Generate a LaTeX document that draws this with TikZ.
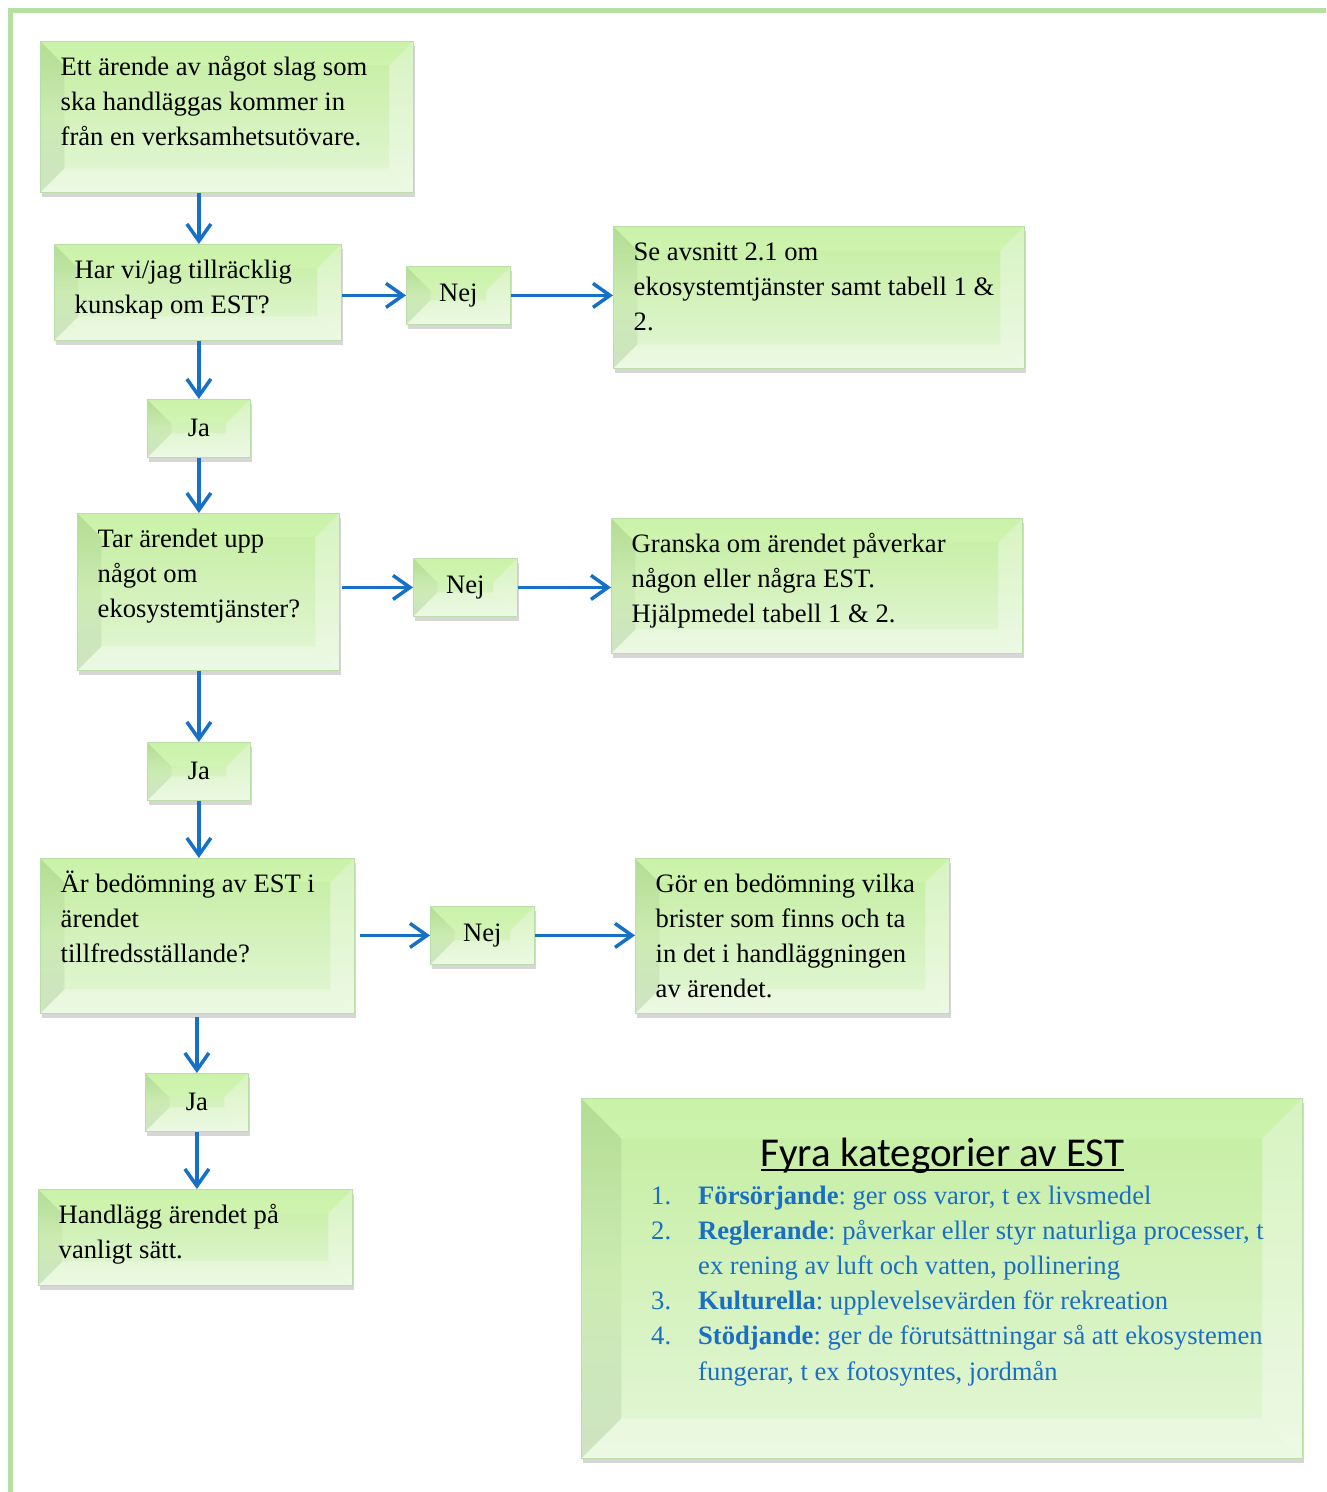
\documentclass[tikz,border=0pt]{standalone}
\usepackage{fontspec}
\setmainfont{Liberation Serif}
\newfontfamily\calib{Carlito}
\usetikzlibrary{calc,shadows,arrows.meta}
\frenchspacing
\definecolor{gtop}{HTML}{C3EE9F}
\definecolor{gbot}{HTML}{E4F6D8}
\definecolor{gedge}{HTML}{BBDDA8}
\definecolor{bevdark}{HTML}{5E7F50}
\definecolor{bevtop}{HTML}{D2F7B2}
\definecolor{framec}{HTML}{B4E1A2}
\definecolor{arrc}{HTML}{1570C6}
\definecolor{lblue}{HTML}{1A6FC4}
\newcommand\lns[1]{\begin{tabular}[t]{@{}l@{}}#1\end{tabular}}
\newcommand\ulin[1]{\setbox0\hbox{#1}\rlap{\rule[-4.5pt]{\wd0}{1.8pt}}\box0}
\newcommand\bevelfaces[1]{%
 \coordinate (pa) at (path picture bounding box.north west);
 \coordinate (pb) at (path picture bounding box.north east);
 \coordinate (pc) at (path picture bounding box.south east);
 \coordinate (pd) at (path picture bounding box.south west);
 \coordinate (qa) at ($(pa)+(#1,-#1)$);
 \coordinate (qb) at ($(pb)+(-#1,-#1)$);
 \coordinate (qc) at ($(pc)+(-#1,#1)$);
 \coordinate (qd) at ($(pd)+(#1,#1)$);
 \fill[bevtop,opacity=.55] (pa)--(pb)--(qb)--(qa)--cycle;
 \shade[top color=bevdark,bottom color=bevdark,middle color=gtop,opacity=.10] (pa)--(qa)--(qd)--(pd)--cycle;
 \fill[bevdark,opacity=.05] (pa)--(qa)--(qd)--(pd)--cycle;
 \fill[white,opacity=.35] (pb)--(pc)--(qc)--(qb)--cycle;
 \fill[white,opacity=.3] (pd)--(qd)--(qc)--(pc)--cycle;
}
\tikzset{
 bx/.style={draw=gedge, line width=.8pt, top color=gtop, bottom color=gbot,
   anchor=north west, inner sep=0pt,
   drop shadow={shadow xshift=1.5pt,shadow yshift=-5pt,opacity=.2,fill=black!80},
   path picture={\bevelfaces{24pt}}},
 tx/.style={label={[anchor=base west,xshift=20.5pt,yshift=-34.5pt,inner sep=0pt]north west:\lns{#1}}},
 arr/.style={draw=arrc, line width=3.5pt, -{Straight Barb[length=17pt,width=24pt]}},
}
\begin{document}
\begin{tikzpicture}[x=1pt,y=-1pt,font=\fontsize{26.6}{35}\selectfont]
\useasboundingbox (0,0) rectangle (1326,1492);
\draw[framec, line width=4.5pt] (10.5,1492) -- (10.5,10.5) -- (1326,10.5);

\node[bx, minimum width=373pt, minimum height=151pt,
  tx={Ett ärende av något slag som\\ska handläggas kommer in\\från en verksamhetsutövare.}] (b1) at (40,41) {};
\node[bx, minimum width=287pt, minimum height=96pt,
  tx={Har vi/jag tillräcklig\\kunskap om EST?}] (b2) at (54,244) {};
\node[bx, minimum width=104pt, minimum height=58pt] (nej1) at (406,266) {Nej};
\node[bx, minimum width=411pt, minimum height=142pt,
  tx={Se avsnitt 2.1 om\\ekosystemtjänster samt tabell 1 \&\\2.}] (b3) at (613,226) {};
\node[bx, minimum width=103pt, minimum height=58pt] (ja1) at (147,399) {Ja};
\node[bx, minimum width=262pt, minimum height=157pt,
  tx={Tar ärendet upp\\något om\\ekosystemtjänster?}] (b4) at (77,513) {};
\node[bx, minimum width=104pt, minimum height=58pt] (nej2) at (413,558) {Nej};
\node[bx, minimum width=411pt, minimum height=135pt,
  tx={Granska om ärendet påverkar\\någon eller några EST.\\Hjälpmedel tabell 1 \& 2.}] (b5) at (611,518) {};
\node[bx, minimum width=103pt, minimum height=58pt] (ja2) at (147,742) {Ja};
\node[bx, minimum width=314pt, minimum height=155pt,
  tx={Är bedömning av EST i\\ärendet\\tillfredsställande?}] (b6) at (40,858) {};
\node[bx, minimum width=104pt, minimum height=58pt] (nej3) at (430,906) {Nej};
\node[bx, minimum width=314pt, minimum height=155pt,
  tx={Gör en bedömning vilka\\brister som finns och ta\\in det i handläggningen\\av ärendet.}] (b7) at (635,858) {};
\node[bx, minimum width=103pt, minimum height=58pt] (ja3) at (145,1073) {Ja};
\node[bx, minimum width=314pt, minimum height=96pt,
  tx={Handlägg ärendet på\\vanligt sätt.}] (b8) at (38,1189) {};

\node[bx, minimum width=721pt, minimum height=360pt, path picture={\bevelfaces{40pt}}] (leg) at (581,1098) {};
\node[anchor=base, inner sep=0pt, font=\calib\fontsize{41}{41}\selectfont] (ttl) at (942.5,1166) {\ulin{Fyra kategorier av EST}};
\node[anchor=base west, inner sep=0pt, text=lblue, font=\fontsize{26.6}{35.2}\selectfont] (items) at (651,1204) {%
\begin{tabular}[t]{@{}p{47pt}@{}l@{}}
1. & \textbf{Försörjande}: ger oss varor, t ex livsmedel\\
2. & \textbf{Reglerande}: påverkar eller styr naturliga processer, t\\
   & ex rening av luft och vatten, pollinering\\
3. & \textbf{Kulturella}: upplevelsevärden för rekreation\\
4. & \textbf{Stödjande}: ger de förutsättningar så att ekosystemen\\
   & fungerar, t ex fotosyntes, jordmån
\end{tabular}};

\draw[arr] (b1.south -| ja1) -- (b2.north -| ja1);
\draw[arr] (b2.south -| ja1) -- (ja1.north);
\draw[arr] (ja1.south) -- (b4.north -| ja1);
\draw[arr] (b4.south -| ja2) -- (ja2.north);
\draw[arr] (ja2.south) -- (b6.north -| ja2);
\draw[arr] ([yshift=-3pt]b6.south -| ja3) -- (ja3.north);
\draw[arr] (ja3.south) -- (b8.north -| ja3);
\draw[arr] (b2.east |- nej1) -- (nej1.west);
\draw[arr] (nej1.east) -- (b3.west |- nej1);
\draw[arr] ([xshift=2pt]b4.east |- nej2) -- (nej2.west);
\draw[arr] (nej2.east) -- (b5.west |- nej2);
\draw[arr] ([xshift=5pt]b6.east |- nej3) -- (nej3.west);
\draw[arr] (nej3.east) -- (b7.west |- nej3);
\end{tikzpicture}
\end{document}
